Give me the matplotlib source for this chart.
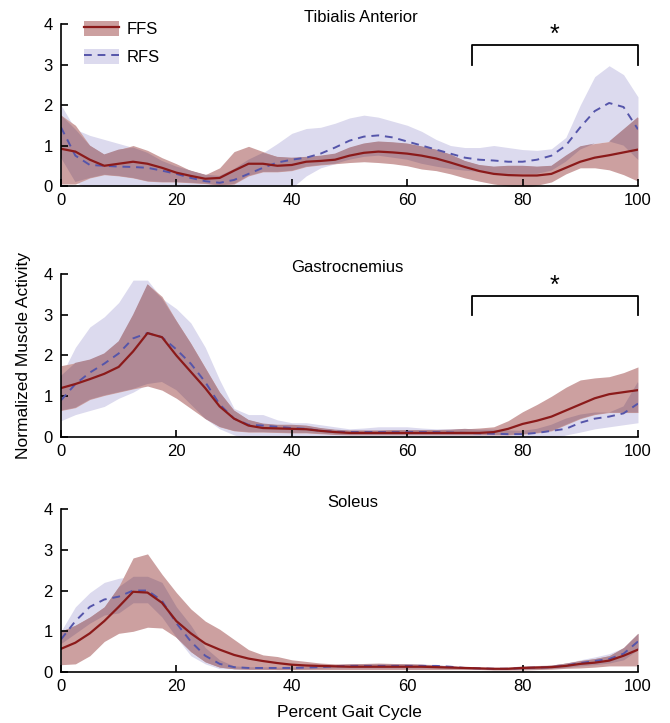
import numpy as np
import matplotlib
matplotlib.use("Agg")
import matplotlib.pyplot as plt
from matplotlib.patches import Patch
from matplotlib.lines import Line2D

plt.rcParams['font.family'] = ['Liberation Sans', 'DejaVu Sans']

# percent gait cycle
gait = np.arange(0, 100.1, 2.5)

# Tibialis Anterior
ta_ffs_mean = [0.92, 0.85, 0.65, 0.5, 0.55, 0.6, 0.55, 0.45, 0.33, 0.25, 0.18, 0.2, 0.38, 0.55, 0.55, 0.5, 0.52, 0.6, 0.62, 0.65, 0.75,
               0.82, 0.85, 0.83, 0.8, 0.75, 0.68, 0.58, 0.47, 0.37, 0.3, 0.27, 0.26, 0.26, 0.3, 0.45, 0.6, 0.7, 0.76, 0.83, 0.9]
ta_ffs_hi = [1.75, 1.5, 1.0, 0.78, 0.9, 1.0, 0.88, 0.7, 0.55, 0.38, 0.28, 0.45, 0.85, 0.98, 0.85, 0.72, 0.7, 0.72, 0.75, 0.8, 0.95,
             1.05, 1.1, 1.08, 1.05, 0.98, 0.9, 0.78, 0.62, 0.52, 0.48, 0.5, 0.5, 0.48, 0.5, 0.75, 0.98, 1.05, 1.1, 1.4, 1.7]
ta_ffs_lo = [0.05, 0.05, 0.2, 0.28, 0.25, 0.2, 0.12, 0.1, 0.1, 0.08, 0.06, 0.02, 0.05, 0.25, 0.35, 0.35, 0.38, 0.48, 0.52, 0.55, 0.58,
             0.6, 0.58, 0.55, 0.5, 0.42, 0.38, 0.3, 0.2, 0.12, 0.05, 0.0, -0.05, 0.02, 0.1, 0.3, 0.45, 0.45, 0.4, 0.28, 0.12]
ta_rfs_mean = [1.45, 0.75, 0.52, 0.5, 0.48, 0.47, 0.45, 0.38, 0.3, 0.2, 0.12, 0.08, 0.15, 0.3, 0.45, 0.58, 0.65, 0.7, 0.8, 0.95, 1.12,
               1.22, 1.25, 1.2, 1.1, 1.0, 0.9, 0.8, 0.7, 0.65, 0.63, 0.6, 0.6, 0.65, 0.75, 1.0, 1.45, 1.85, 2.05, 1.95, 1.4]
ta_rfs_hi = [2.0, 1.4, 1.25, 1.15, 1.05, 0.95, 0.82, 0.62, 0.48, 0.38, 0.28, 0.25, 0.42, 0.65, 0.82, 1.05, 1.3, 1.42, 1.45, 1.55, 1.68,
             1.75, 1.7, 1.6, 1.5, 1.35, 1.15, 1.0, 0.95, 0.95, 1.0, 0.95, 0.9, 0.88, 0.92, 1.2, 2.0, 2.7, 2.97, 2.75, 2.2]
ta_rfs_lo = [0.7, 0.1, -0.1, -0.2, -0.2, -0.2, -0.2, -0.2, -0.2, -0.2, -0.2, -0.2, -0.2, -0.2, -0.2, -0.1, -0.05, 0.25, 0.45, 0.55, 0.65,
             0.72, 0.75, 0.7, 0.65, 0.55, 0.48, 0.42, 0.38, 0.35, 0.3, 0.3, 0.3, 0.3, 0.38, 0.6, 0.9, 1.05, 1.1, 1.0, 0.65]

# Gastrocnemius
ga_ffs_mean = [1.2, 1.3, 1.42, 1.55, 1.72, 2.1, 2.55, 2.45, 2.0, 1.6, 1.2, 0.75, 0.45, 0.28, 0.22, 0.21, 0.2, 0.19, 0.15, 0.12, 0.1,
               0.1, 0.1, 0.1, 0.1, 0.1, 0.1, 0.1, 0.1, 0.1, 0.12, 0.2, 0.32, 0.4, 0.5, 0.65, 0.8, 0.95, 1.05, 1.1, 1.15]
ga_ffs_hi = [1.75, 1.82, 1.9, 2.05, 2.35, 3.0, 3.75, 3.45, 2.85, 2.3, 1.7, 1.1, 0.65, 0.42, 0.33, 0.3, 0.3, 0.28, 0.22, 0.18, 0.16,
             0.16, 0.16, 0.17, 0.17, 0.17, 0.17, 0.18, 0.2, 0.22, 0.25, 0.4, 0.62, 0.8, 1.0, 1.22, 1.4, 1.45, 1.48, 1.58, 1.72]
ga_ffs_lo = [0.65, 0.72, 0.92, 1.02, 1.1, 1.18, 1.25, 1.15, 0.95, 0.7, 0.45, 0.25, 0.15, 0.12, 0.12, 0.11, 0.1, 0.1, 0.08, 0.06, 0.05,
             0.05, 0.05, 0.05, 0.05, 0.05, 0.05, 0.05, 0.05, 0.05, 0.05, 0.05, 0.07, 0.1, 0.15, 0.3, 0.45, 0.55, 0.6, 0.6, 0.6]
ga_rfs_mean = [0.9, 1.3, 1.58, 1.8, 2.05, 2.42, 2.55, 2.45, 2.15, 1.8, 1.35, 0.8, 0.45, 0.3, 0.28, 0.25, 0.22, 0.2, 0.15, 0.13, 0.12,
               0.12, 0.12, 0.12, 0.12, 0.12, 0.12, 0.11, 0.1, 0.09, 0.08, 0.07, 0.07, 0.1, 0.15, 0.2, 0.35, 0.45, 0.5, 0.58, 0.82]
ga_rfs_hi = [1.5, 2.2, 2.7, 2.95, 3.3, 3.85, 3.85, 3.4, 3.15, 2.8, 2.2, 1.4, 0.7, 0.55, 0.55, 0.42, 0.35, 0.35, 0.3, 0.25, 0.2,
             0.22, 0.25, 0.25, 0.25, 0.22, 0.2, 0.2, 0.2, 0.18, 0.18, 0.16, 0.15, 0.2, 0.3, 0.45, 0.55, 0.6, 0.6, 0.75, 1.35]
ga_rfs_lo = [0.4, 0.55, 0.65, 0.75, 0.95, 1.1, 1.3, 1.35, 1.15, 0.8, 0.45, 0.2, 0.05, -0.05, -0.05, -0.05, -0.05, -0.05, -0.05, -0.05, -0.05,
             -0.05, -0.05, -0.05, -0.05, -0.05, -0.05, -0.05, -0.05, -0.05, -0.05, -0.05, -0.05, -0.05, -0.05, 0.05, 0.12, 0.2, 0.25, 0.3, 0.35]

# Soleus
so_ffs_mean = [0.57, 0.72, 0.95, 1.25, 1.6, 1.97, 1.95, 1.7, 1.25, 0.95, 0.7, 0.55, 0.42, 0.33, 0.27, 0.22, 0.18, 0.16, 0.15, 0.14, 0.13,
               0.13, 0.13, 0.13, 0.13, 0.13, 0.12, 0.11, 0.1, 0.09, 0.08, 0.08, 0.1, 0.11, 0.12, 0.15, 0.2, 0.23, 0.28, 0.4, 0.55]
so_ffs_hi = [1.0, 1.15, 1.35, 1.6, 2.1, 2.8, 2.9, 2.4, 1.95, 1.55, 1.25, 1.05, 0.8, 0.55, 0.42, 0.38, 0.3, 0.26, 0.22, 0.2, 0.2,
             0.21, 0.22, 0.21, 0.2, 0.19, 0.17, 0.15, 0.12, 0.11, 0.1, 0.12, 0.15, 0.16, 0.17, 0.22, 0.28, 0.33, 0.4, 0.6, 0.95]
so_ffs_lo = [0.18, 0.2, 0.4, 0.75, 0.95, 1.0, 1.1, 1.08, 0.85, 0.5, 0.25, 0.12, 0.08, 0.07, 0.07, 0.06, 0.06, 0.06, 0.06, 0.06, 0.06,
             0.06, 0.06, 0.06, 0.06, 0.06, 0.06, 0.06, 0.06, 0.06, 0.05, 0.05, 0.05, 0.06, 0.07, 0.09, 0.1, 0.12, 0.15, 0.15, 0.15]
so_rfs_mean = [0.8, 1.25, 1.6, 1.78, 1.85, 2.0, 2.0, 1.75, 1.2, 0.75, 0.4, 0.2, 0.12, 0.1, 0.1, 0.1, 0.1, 0.11, 0.12, 0.14, 0.15,
               0.15, 0.15, 0.15, 0.15, 0.15, 0.15, 0.13, 0.1, 0.09, 0.08, 0.08, 0.1, 0.11, 0.12, 0.16, 0.22, 0.27, 0.32, 0.45, 0.75]
so_rfs_hi = [1.0, 1.6, 1.95, 2.2, 2.3, 2.35, 2.35, 2.2, 1.6, 1.15, 0.6, 0.3, 0.15, 0.13, 0.13, 0.12, 0.12, 0.14, 0.16, 0.18, 0.2,
             0.2, 0.2, 0.2, 0.2, 0.2, 0.18, 0.16, 0.12, 0.11, 0.1, 0.11, 0.12, 0.14, 0.17, 0.22, 0.3, 0.37, 0.45, 0.6, 0.95]
so_rfs_lo = [0.7, 0.95, 1.2, 1.4, 1.45, 1.7, 1.7, 1.35, 0.85, 0.4, 0.2, 0.08, 0.07, 0.07, 0.07, 0.07, 0.07, 0.08, 0.09, 0.1, 0.1,
             0.1, 0.1, 0.1, 0.1, 0.1, 0.1, 0.09, 0.08, 0.07, 0.06, 0.06, 0.07, 0.08, 0.09, 0.11, 0.15, 0.18, 0.22, 0.3, 0.55]

muscles = ["Tibialis Anterior", "Gastrocnemius", "Soleus"]
title_x = [52, 49.7, 50.6]
signif = [(71.2, 100), (71.2, 100), None]

# colours (overlap = multiply of the two fills)
c_ffs_fill = "#CCA0A0"
c_rfs_fill = "#DCDAEE"
c_both = "#B08995"
c_ffs = "#8B1A1A"
c_rfs = "#5555AA"

data = [
    (ta_ffs_mean, ta_ffs_lo, ta_ffs_hi, ta_rfs_mean, ta_rfs_lo, ta_rfs_hi),
    (ga_ffs_mean, ga_ffs_lo, ga_ffs_hi, ga_rfs_mean, ga_rfs_lo, ga_rfs_hi),
    (so_ffs_mean, so_ffs_lo, so_ffs_hi, so_rfs_mean, so_rfs_lo, so_rfs_hi),
]

fig = plt.figure(figsize=(6.7, 7.23), dpi=100)
bottoms = [0.7427, 0.3956, 0.0705]
heights = [0.2241, 0.2254, 0.2254]

axes = []
for k in range(3):
    ax = fig.add_axes([0.0910, bottoms[k], 0.8612, heights[k]])
    fm, fl, fh, rm, rl, rh = [np.array(a) for a in data[k]]

    ax.fill_between(gait, rl, rh, color=c_rfs_fill, lw=0)
    ax.fill_between(gait, fl, fh, color=c_ffs_fill, lw=0)
    lo = np.maximum(fl, rl)
    hi = np.minimum(fh, rh)
    ax.fill_between(gait, lo, hi, where=hi > lo, interpolate=True, color=c_both, lw=0)

    ax.plot(gait, rm, color=c_rfs, lw=1.4, dashes=(4, 3))
    ax.plot(gait, fm, color=c_ffs, lw=1.6)

    ax.set_xlim(0, 100)
    ax.set_ylim(0, 4)
    ax.set_xticks([0, 20, 40, 60, 80, 100])
    ax.set_yticks([0, 1, 2, 3, 4])
    ax.tick_params(direction='in', length=5, width=1.2, labelsize=12)
    ax.tick_params(axis='x', pad=5)
    ax.tick_params(axis='y', pad=6)
    for s in ['top', 'right']:
        ax.spines[s].set_visible(False)
    for s in ['left', 'bottom']:
        ax.spines[s].set_linewidth(1.2)

    ax.text(title_x[k], 4.05, muscles[k], ha='center', va='baseline', fontsize=12)

    if signif[k] is not None:
        a, b = signif[k]
        ax.plot([a, a, b, b], [3.0, 3.47, 3.47, 3.0], color='k', lw=1.3, clip_on=False)
        ax.text((a + b) / 2, 3.72, "*", ha='center', va='center', fontsize=18)
    axes.append(ax)

# legend
h_ffs = (Patch(facecolor=c_ffs_fill, edgecolor='none'), Line2D([], [], color=c_ffs, lw=1.6))
h_rfs = (Patch(facecolor=c_rfs_fill, edgecolor='none'), Line2D([], [], color=c_rfs, lw=1.4, dashes=(4, 3)))
axes[0].legend([h_ffs, h_rfs], ["FFS", "RFS"], loc='upper left', bbox_to_anchor=(0.04, 1.02),
               frameon=False, fontsize=12, handlelength=2.1, handleheight=1.0,
               labelspacing=0.7, handletextpad=0.45, borderpad=0, borderaxespad=0)

axes[1].set_ylabel("Normalized Muscle Activity", fontsize=12.5, labelpad=9)
axes[2].set_xlabel("Percent Gait Cycle", fontsize=12.5, labelpad=8)

plt.savefig("out.png", dpi=100)
